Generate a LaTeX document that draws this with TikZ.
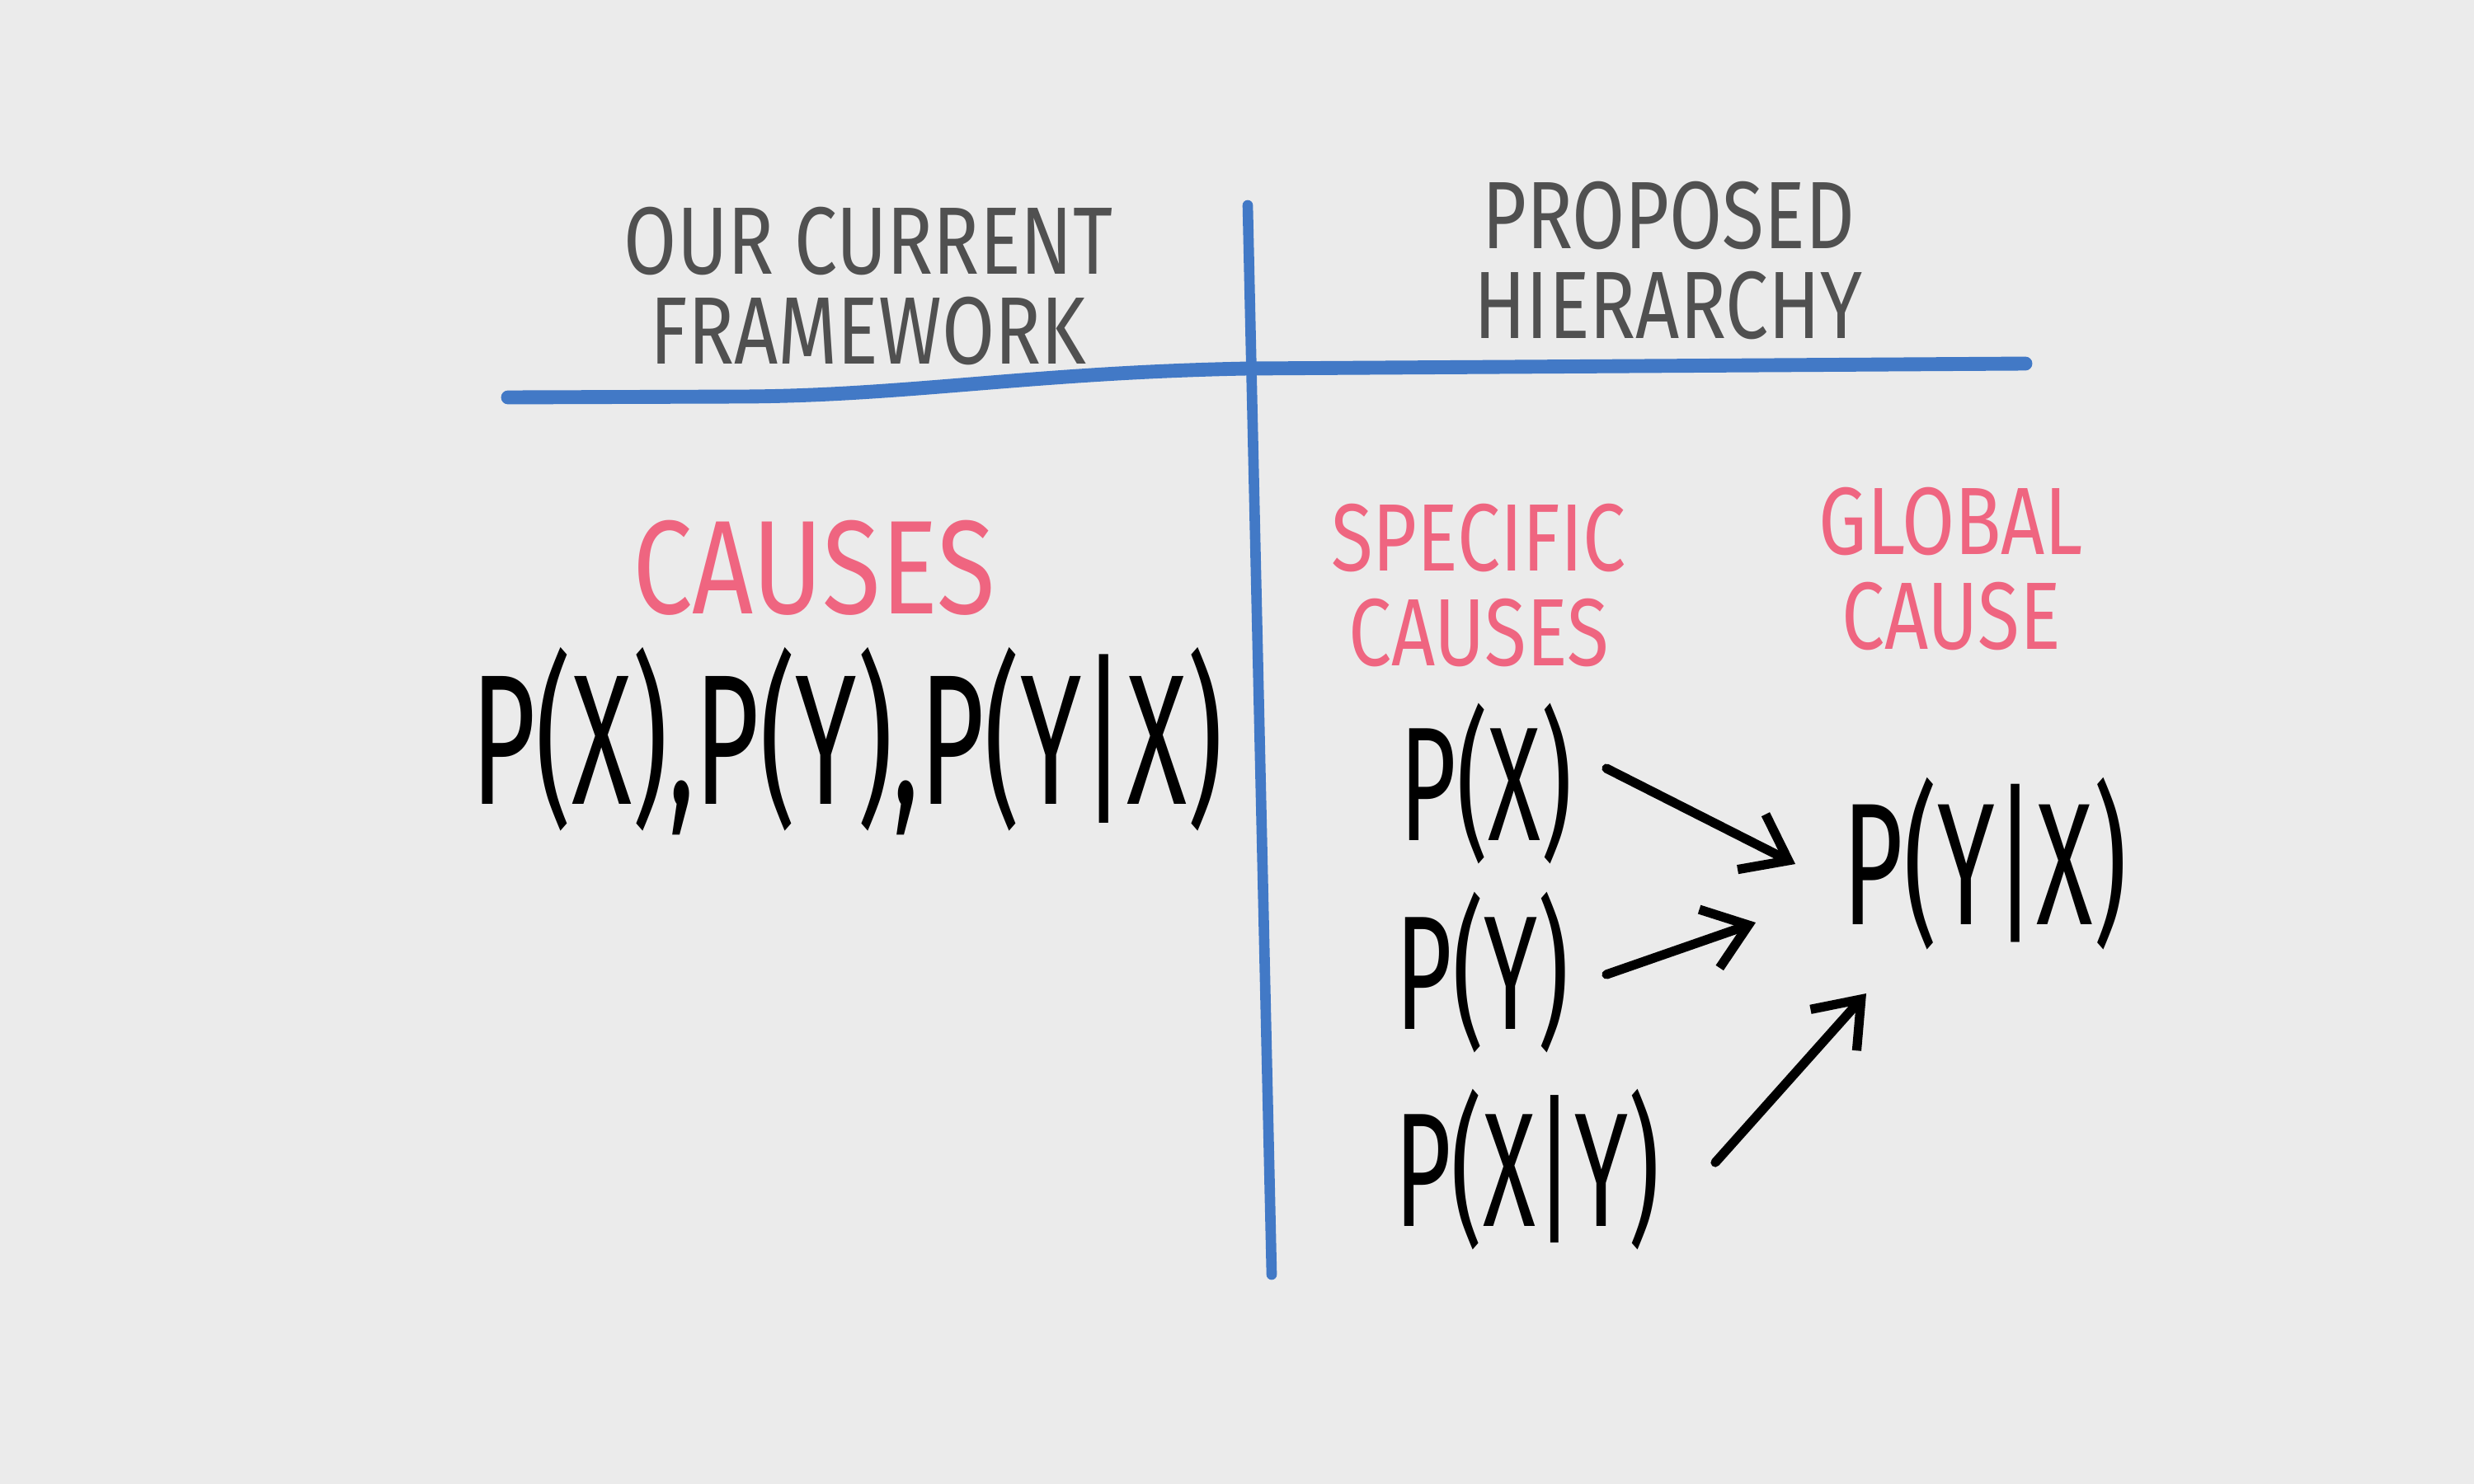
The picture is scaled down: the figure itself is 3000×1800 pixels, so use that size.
\documentclass[tikz,border=0pt]{standalone}
\usepackage{fontspec}
\usetikzlibrary{arrows.meta}
\newfontfamily\hand[FakeStretch=0.8]{Fira Sans}
\newfontfamily\handm[FakeStretch=0.6]{Fira Sans}
\definecolor{paper}{RGB}{235,235,235}
\definecolor{inkblue}{RGB}{66,121,198}
\definecolor{inkpink}{RGB}{239,101,128}
\definecolor{inkgray}{RGB}{80,80,80}
\tikzset{
  header/.style={text=inkgray, align=center, font=\hand\fontsize{33}{31}\selectfont, inner sep=0pt},
  pinklbl/.style={text=inkpink, align=center, font=\hand\fontsize{33}{32.5}\selectfont, inner sep=0pt},
  expr/.style={text=black, inner sep=0pt},
  rule/.style={draw=inkblue, line cap=round, line join=round},
  arr/.style={draw=black, line width=3.2pt, line cap=round, line join=round,
    -{Straight Barb[length=5mm,width=7.5mm,line width=3.2pt]}},
}
\begin{document}
\begin{tikzpicture}[x=0.01cm,y=-0.01cm]
\useasboundingbox (0,0) rectangle (3000,1800);
\fill[paper] (0,0) rectangle (3000,1800);

% blue rules
\draw[rule, line width=4.8pt] (616,482) -- (900,481) .. controls (1100,480) and (1250,452) .. (1513,447) -- (2456,441);
\draw[rule, line width=3.6pt] (1513,249) -- (1542,1546);

% headers
\node[header] (hdrL) at (1053,347) {OUR CURRENT\\FRAMEWORK};
\node[header] (hdrR) at (2023,316) {PROPOSED\\HIERARCHY};

% left column
\node[text=inkpink, inner sep=0pt, font=\hand\fontsize{46}{50}\selectfont] (causesL) at (987,689) {CAUSES};
\node[expr, font=\handm\fontsize{64}{64}\selectfont] (exprL) at (1027,899) {P(X),P(Y),P(Y|X)};

% right column
\node[pinklbl] (spec) at (1793,710) {SPECIFIC\\CAUSES};
\node[pinklbl] (glob) at (2366,690) {GLOBAL\\CAUSE};

\node[expr, font=\handm\fontsize{56}{56}\selectfont] (px) at (1802,951) {P(X)};
\node[expr, font=\handm\fontsize{56}{56}\selectfont] (py) at (1798,1180) {P(Y)};
\node[expr, font=\handm\fontsize{56}{56}\selectfont] (pxy) at (1852,1419) {P(X|Y)};
\node[expr, font=\handm\fontsize{60}{60}\selectfont] (pyx) at (2407,1048) {P(Y|X)};

% arrows
\draw[arr] ([shift={(146,-19)}]px.center) -- ([shift={(-230,0)}]pyx.center);
\draw[arr] ([shift={(150,2)}]py.center) -- ([shift={(-278,71)}]pyx.center);
\draw[arr] ([shift={(228,-9)}]pxy.center) -- ([shift={(-144,157)}]pyx.center);
\end{tikzpicture}
\end{document}
